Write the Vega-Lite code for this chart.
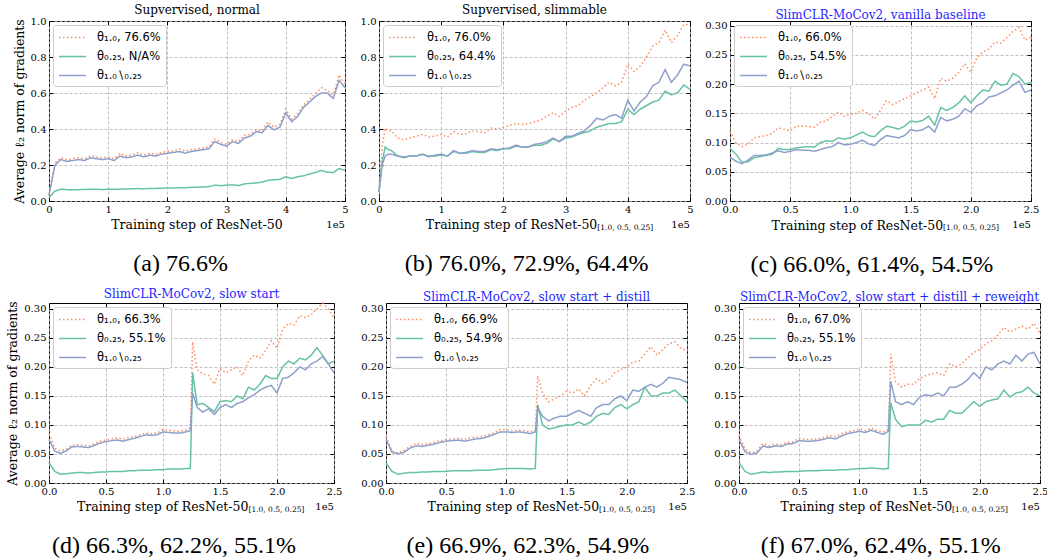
{
  "$schema": "https://vega.github.io/schema/vega-lite/v6.json",
  "padding": {"left": 5, "top": 3, "right": 0, "bottom": 0},
  "background": "white",
  "config": {
    "font": "DejaVu Serif",
    "view": {"stroke": "black", "strokeWidth": 1},
    "axis": {
      "domain": false, "grid": true, "gridColor": "#b0b0b0", "gridDash": [3, 2], "gridWidth": 0.8,
      "labelFont": "DejaVu Serif", "labelFontSize": 10, "labelColor": "black",
      "titleFont": "DejaVu Serif", "titleFontSize": 12.5, "titleFontWeight": "normal", "titleColor": "black",
      "tickColor": "black", "tickSize": -4, "labelPadding": 7, "labelFlush": false, "labelOverlap": false, "tickCount": 20
    },
    "legend": {
      "orient": "top-left", "offset": 4, "title": null, "padding": 5, "rowPadding": 6,
      "fillColor": "rgba(255,255,255,0.9)", "strokeColor": "#cccccc", "cornerRadius": 3,
      "symbolType": "M-2,0H2", "symbolSize": 182, "symbolStrokeWidth": 1.5, "symbolOffset": 7, "labelOffset": 17,
      "labelFont": "DejaVu Sans", "labelFontSize": 11.5, "labelColor": "black"
    },
    "title": {"font": "DejaVu Serif", "fontSize": 12, "fontWeight": "normal", "color": "black", "offset": -1},
    "text": {"font": "DejaVu Serif", "color": "black"}
  },
  "datasets": {
    "a": [
      {"x":0,"p":0.04,"q":0.02,"r":0.03},{"x":0.1,"p":0.21,"q":0.055,"r":0.2},{"x":0.2,"p":0.24,"q":0.065,"r":0.23},
      {"x":0.3,"p":0.23,"q":0.063,"r":0.22},{"x":0.4,"p":0.235,"q":0.062,"r":0.225},{"x":0.5,"p":0.24,"q":0.063,"r":0.23},
      {"x":0.6,"p":0.235,"q":0.064,"r":0.225},{"x":0.7,"p":0.25,"q":0.066,"r":0.24},{"x":0.8,"p":0.245,"q":0.065,"r":0.235},
      {"x":0.9,"p":0.24,"q":0.064,"r":0.23},{"x":1.0,"p":0.245,"q":0.065,"r":0.235},{"x":1.1,"p":0.235,"q":0.065,"r":0.225},
      {"x":1.2,"p":0.265,"q":0.066,"r":0.25},{"x":1.3,"p":0.25,"q":0.066,"r":0.24},{"x":1.4,"p":0.255,"q":0.068,"r":0.245},
      {"x":1.5,"p":0.27,"q":0.069,"r":0.255},{"x":1.6,"p":0.255,"q":0.068,"r":0.245},{"x":1.7,"p":0.265,"q":0.07,"r":0.255},
      {"x":1.8,"p":0.26,"q":0.07,"r":0.25},{"x":1.9,"p":0.27,"q":0.071,"r":0.26},{"x":2.0,"p":0.275,"q":0.072,"r":0.265},
      {"x":2.1,"p":0.28,"q":0.072,"r":0.27},{"x":2.2,"p":0.29,"q":0.074,"r":0.275},{"x":2.3,"p":0.275,"q":0.074,"r":0.265},
      {"x":2.4,"p":0.285,"q":0.076,"r":0.275},{"x":2.5,"p":0.29,"q":0.077,"r":0.28},{"x":2.6,"p":0.295,"q":0.078,"r":0.285},
      {"x":2.7,"p":0.3,"q":0.08,"r":0.29},{"x":2.8,"p":0.345,"q":0.088,"r":0.33},{"x":2.9,"p":0.325,"q":0.085,"r":0.315},
      {"x":3.0,"p":0.315,"q":0.088,"r":0.305},{"x":3.1,"p":0.34,"q":0.09,"r":0.33},{"x":3.2,"p":0.33,"q":0.086,"r":0.32},
      {"x":3.3,"p":0.365,"q":0.095,"r":0.35},{"x":3.4,"p":0.37,"q":0.098,"r":0.36},{"x":3.5,"p":0.395,"q":0.1,"r":0.385},
      {"x":3.6,"p":0.39,"q":0.105,"r":0.38},{"x":3.7,"p":0.44,"q":0.115,"r":0.42},{"x":3.8,"p":0.41,"q":0.118,"r":0.395},
      {"x":3.9,"p":0.425,"q":0.12,"r":0.41},{"x":4.0,"p":0.51,"q":0.135,"r":0.49},{"x":4.1,"p":0.455,"q":0.125,"r":0.44},
      {"x":4.2,"p":0.485,"q":0.135,"r":0.47},{"x":4.3,"p":0.535,"q":0.14,"r":0.52},{"x":4.4,"p":0.565,"q":0.15,"r":0.55},
      {"x":4.5,"p":0.595,"q":0.158,"r":0.58},{"x":4.6,"p":0.63,"q":0.17,"r":0.6},{"x":4.7,"p":0.615,"q":0.16,"r":0.6},
      {"x":4.8,"p":0.59,"q":0.158,"r":0.57},{"x":4.9,"p":0.7,"q":0.18,"r":0.67},{"x":5.0,"p":0.65,"q":0.17,"r":0.63}
    ],
    "b": [
      {"x":0,"p":0.08,"q":0.05,"r":0.05},{"x":0.05,"p":0.3,"q":0.22,"r":0.2},{"x":0.1,"p":0.405,"q":0.3,"r":0.25},
      {"x":0.15,"p":0.39,"q":0.285,"r":0.26},{"x":0.2,"p":0.39,"q":0.28,"r":0.26},{"x":0.3,"p":0.35,"q":0.25,"r":0.25},
      {"x":0.4,"p":0.34,"q":0.24,"r":0.245},{"x":0.5,"p":0.35,"q":0.25,"r":0.25},{"x":0.6,"p":0.36,"q":0.25,"r":0.25},
      {"x":0.7,"p":0.37,"q":0.26,"r":0.26},{"x":0.8,"p":0.355,"q":0.25,"r":0.245},{"x":0.9,"p":0.36,"q":0.25,"r":0.255},
      {"x":1.0,"p":0.37,"q":0.255,"r":0.26},{"x":1.1,"p":0.355,"q":0.25,"r":0.25},{"x":1.2,"p":0.385,"q":0.275,"r":0.28},
      {"x":1.3,"p":0.37,"q":0.265,"r":0.265},{"x":1.4,"p":0.375,"q":0.265,"r":0.27},{"x":1.5,"p":0.39,"q":0.275,"r":0.28},
      {"x":1.6,"p":0.385,"q":0.27,"r":0.275},{"x":1.7,"p":0.38,"q":0.27,"r":0.275},{"x":1.8,"p":0.405,"q":0.285,"r":0.29},
      {"x":1.9,"p":0.4,"q":0.28,"r":0.285},{"x":2.0,"p":0.41,"q":0.29,"r":0.29},{"x":2.1,"p":0.42,"q":0.29,"r":0.295},
      {"x":2.2,"p":0.43,"q":0.305,"r":0.31},{"x":2.3,"p":0.425,"q":0.3,"r":0.3},{"x":2.4,"p":0.43,"q":0.3,"r":0.3},
      {"x":2.5,"p":0.44,"q":0.31,"r":0.315},{"x":2.6,"p":0.45,"q":0.31,"r":0.32},{"x":2.7,"p":0.47,"q":0.32,"r":0.33},
      {"x":2.8,"p":0.49,"q":0.345,"r":0.35},{"x":2.9,"p":0.47,"q":0.33,"r":0.33},{"x":3.0,"p":0.5,"q":0.35,"r":0.36},
      {"x":3.1,"p":0.52,"q":0.355,"r":0.36},{"x":3.2,"p":0.53,"q":0.37,"r":0.375},{"x":3.3,"p":0.56,"q":0.38,"r":0.39},
      {"x":3.4,"p":0.58,"q":0.39,"r":0.42},{"x":3.5,"p":0.6,"q":0.41,"r":0.46},{"x":3.6,"p":0.63,"q":0.42,"r":0.45},
      {"x":3.7,"p":0.66,"q":0.43,"r":0.47},{"x":3.8,"p":0.64,"q":0.43,"r":0.48},{"x":3.9,"p":0.66,"q":0.44,"r":0.46},
      {"x":4.0,"p":0.76,"q":0.51,"r":0.56},{"x":4.1,"p":0.72,"q":0.48,"r":0.5},{"x":4.2,"p":0.75,"q":0.51,"r":0.55},
      {"x":4.3,"p":0.8,"q":0.53,"r":0.58},{"x":4.4,"p":0.86,"q":0.55,"r":0.64},{"x":4.5,"p":0.88,"q":0.56,"r":0.66},
      {"x":4.6,"p":0.95,"q":0.61,"r":0.73},{"x":4.7,"p":0.88,"q":0.59,"r":0.66},{"x":4.8,"p":0.92,"q":0.6,"r":0.7},
      {"x":4.9,"p":0.98,"q":0.645,"r":0.76},{"x":5.0,"p":0.98,"q":0.62,"r":0.75}
    ],
    "c": [
      {"x":0,"p":0.12,"q":0.09,"r":0.075},{"x":0.05,"p":0.1,"q":0.08,"r":0.068},{"x":0.1,"p":0.093,"q":0.066,"r":0.064},
      {"x":0.15,"p":0.097,"q":0.067,"r":0.07},{"x":0.2,"p":0.108,"q":0.074,"r":0.078},{"x":0.25,"p":0.11,"q":0.076,"r":0.078},
      {"x":0.3,"p":0.112,"q":0.078,"r":0.079},{"x":0.35,"p":0.115,"q":0.08,"r":0.082},{"x":0.4,"p":0.125,"q":0.09,"r":0.086},
      {"x":0.45,"p":0.123,"q":0.088,"r":0.083},{"x":0.5,"p":0.12,"q":0.088,"r":0.085},{"x":0.55,"p":0.128,"q":0.091,"r":0.088},
      {"x":0.6,"p":0.128,"q":0.092,"r":0.087},{"x":0.65,"p":0.128,"q":0.093,"r":0.087},{"x":0.7,"p":0.126,"q":0.092,"r":0.085},
      {"x":0.75,"p":0.135,"q":0.1,"r":0.088},{"x":0.8,"p":0.137,"q":0.103,"r":0.091},{"x":0.85,"p":0.145,"q":0.102,"r":0.093},
      {"x":0.9,"p":0.152,"q":0.108,"r":0.1},{"x":0.95,"p":0.145,"q":0.106,"r":0.096},{"x":1.0,"p":0.148,"q":0.108,"r":0.097},
      {"x":1.05,"p":0.15,"q":0.113,"r":0.1},{"x":1.1,"p":0.155,"q":0.118,"r":0.104},{"x":1.15,"p":0.15,"q":0.112,"r":0.098},
      {"x":1.2,"p":0.14,"q":0.11,"r":0.095},{"x":1.25,"p":0.155,"q":0.12,"r":0.105},{"x":1.3,"p":0.172,"q":0.128,"r":0.112},
      {"x":1.35,"p":0.165,"q":0.126,"r":0.11},{"x":1.4,"p":0.17,"q":0.123,"r":0.108},{"x":1.45,"p":0.175,"q":0.128,"r":0.112},
      {"x":1.5,"p":0.18,"q":0.137,"r":0.122},{"x":1.55,"p":0.185,"q":0.135,"r":0.12},{"x":1.6,"p":0.19,"q":0.138,"r":0.122},
      {"x":1.65,"p":0.195,"q":0.145,"r":0.128},{"x":1.7,"p":0.175,"q":0.13,"r":0.118},{"x":1.75,"p":0.21,"q":0.16,"r":0.143},
      {"x":1.8,"p":0.205,"q":0.155,"r":0.137},{"x":1.85,"p":0.21,"q":0.16,"r":0.14},{"x":1.9,"p":0.22,"q":0.168,"r":0.145},
      {"x":1.95,"p":0.235,"q":0.18,"r":0.158},{"x":2.0,"p":0.22,"q":0.168,"r":0.152},{"x":2.05,"p":0.245,"q":0.18,"r":0.163},
      {"x":2.1,"p":0.255,"q":0.19,"r":0.168},{"x":2.15,"p":0.26,"q":0.188,"r":0.178},{"x":2.2,"p":0.272,"q":0.205,"r":0.18},
      {"x":2.25,"p":0.27,"q":0.198,"r":0.185},{"x":2.3,"p":0.28,"q":0.2,"r":0.19},{"x":2.35,"p":0.29,"q":0.218,"r":0.198},
      {"x":2.4,"p":0.297,"q":0.213,"r":0.205},{"x":2.45,"p":0.275,"q":0.2,"r":0.186},{"x":2.5,"p":0.28,"q":0.203,"r":0.19}
    ],
    "d": [
      {"x":0,"p":0.085,"q":0.035,"r":0.075},{"x":0.05,"p":0.06,"q":0.02,"r":0.055},{"x":0.1,"p":0.055,"q":0.015,"r":0.051},
      {"x":0.15,"p":0.058,"q":0.016,"r":0.055},{"x":0.2,"p":0.065,"q":0.017,"r":0.062},{"x":0.25,"p":0.066,"q":0.018,"r":0.063},
      {"x":0.3,"p":0.065,"q":0.018,"r":0.062},{"x":0.35,"p":0.064,"q":0.017,"r":0.061},{"x":0.4,"p":0.068,"q":0.018,"r":0.065},
      {"x":0.45,"p":0.072,"q":0.019,"r":0.069},{"x":0.5,"p":0.074,"q":0.019,"r":0.071},{"x":0.55,"p":0.076,"q":0.02,"r":0.073},
      {"x":0.6,"p":0.078,"q":0.02,"r":0.074},{"x":0.65,"p":0.076,"q":0.02,"r":0.072},{"x":0.7,"p":0.079,"q":0.021,"r":0.075},
      {"x":0.75,"p":0.08,"q":0.021,"r":0.077},{"x":0.8,"p":0.083,"q":0.022,"r":0.08},{"x":0.85,"p":0.086,"q":0.022,"r":0.083},
      {"x":0.9,"p":0.085,"q":0.022,"r":0.082},{"x":0.95,"p":0.086,"q":0.023,"r":0.083},{"x":1.0,"p":0.092,"q":0.023,"r":0.088},
      {"x":1.05,"p":0.091,"q":0.024,"r":0.087},{"x":1.1,"p":0.09,"q":0.024,"r":0.086},{"x":1.15,"p":0.089,"q":0.024,"r":0.086},
      {"x":1.2,"p":0.091,"q":0.025,"r":0.088},{"x":1.24,"p":0.095,"q":0.025,"r":0.09},{"x":1.26,"p":0.243,"q":0.19,"r":0.155},
      {"x":1.3,"p":0.195,"q":0.135,"r":0.13},{"x":1.35,"p":0.188,"q":0.137,"r":0.122},{"x":1.4,"p":0.185,"q":0.13,"r":0.128},
      {"x":1.45,"p":0.17,"q":0.123,"r":0.118},{"x":1.5,"p":0.197,"q":0.14,"r":0.13},{"x":1.55,"p":0.19,"q":0.142,"r":0.135},
      {"x":1.6,"p":0.195,"q":0.14,"r":0.13},{"x":1.65,"p":0.2,"q":0.15,"r":0.137},{"x":1.7,"p":0.185,"q":0.145,"r":0.14},
      {"x":1.75,"p":0.21,"q":0.165,"r":0.147},{"x":1.8,"p":0.22,"q":0.16,"r":0.152},{"x":1.85,"p":0.215,"q":0.17,"r":0.16},
      {"x":1.9,"p":0.228,"q":0.185,"r":0.165},{"x":1.95,"p":0.245,"q":0.18,"r":0.168},{"x":2.0,"p":0.232,"q":0.18,"r":0.155},
      {"x":2.05,"p":0.265,"q":0.2,"r":0.18},{"x":2.1,"p":0.275,"q":0.21,"r":0.182},{"x":2.15,"p":0.272,"q":0.205,"r":0.19},
      {"x":2.2,"p":0.288,"q":0.215,"r":0.2},{"x":2.25,"p":0.285,"q":0.212,"r":0.195},{"x":2.3,"p":0.29,"q":0.22,"r":0.205},
      {"x":2.35,"p":0.3,"q":0.233,"r":0.21},{"x":2.4,"p":0.31,"q":0.22,"r":0.218},{"x":2.45,"p":0.3,"q":0.205,"r":0.205},
      {"x":2.5,"p":0.285,"q":0.21,"r":0.19}
    ],
    "e": [
      {"x":0,"p":0.08,"q":0.035,"r":0.075},{"x":0.05,"p":0.055,"q":0.02,"r":0.053},{"x":0.1,"p":0.052,"q":0.015,"r":0.05},
      {"x":0.15,"p":0.056,"q":0.017,"r":0.053},{"x":0.2,"p":0.063,"q":0.018,"r":0.06},{"x":0.25,"p":0.068,"q":0.018,"r":0.064},
      {"x":0.3,"p":0.066,"q":0.019,"r":0.063},{"x":0.35,"p":0.068,"q":0.019,"r":0.065},{"x":0.4,"p":0.07,"q":0.02,"r":0.067},
      {"x":0.45,"p":0.073,"q":0.02,"r":0.07},{"x":0.5,"p":0.075,"q":0.02,"r":0.072},{"x":0.55,"p":0.076,"q":0.021,"r":0.073},
      {"x":0.6,"p":0.077,"q":0.021,"r":0.074},{"x":0.65,"p":0.075,"q":0.021,"r":0.072},{"x":0.7,"p":0.078,"q":0.021,"r":0.074},
      {"x":0.75,"p":0.079,"q":0.022,"r":0.076},{"x":0.8,"p":0.08,"q":0.022,"r":0.077},{"x":0.85,"p":0.083,"q":0.022,"r":0.08},
      {"x":0.9,"p":0.087,"q":0.023,"r":0.084},{"x":0.95,"p":0.092,"q":0.024,"r":0.088},{"x":1.0,"p":0.092,"q":0.025,"r":0.088},
      {"x":1.05,"p":0.09,"q":0.025,"r":0.087},{"x":1.1,"p":0.091,"q":0.025,"r":0.088},{"x":1.15,"p":0.09,"q":0.025,"r":0.087},
      {"x":1.2,"p":0.088,"q":0.024,"r":0.085},{"x":1.24,"p":0.09,"q":0.025,"r":0.088},{"x":1.26,"p":0.185,"q":0.135,"r":0.13},
      {"x":1.3,"p":0.155,"q":0.1,"r":0.115},{"x":1.35,"p":0.14,"q":0.093,"r":0.107},{"x":1.4,"p":0.145,"q":0.095,"r":0.112},
      {"x":1.45,"p":0.15,"q":0.098,"r":0.115},{"x":1.5,"p":0.158,"q":0.1,"r":0.115},{"x":1.55,"p":0.155,"q":0.1,"r":0.12},
      {"x":1.6,"p":0.162,"q":0.105,"r":0.125},{"x":1.65,"p":0.15,"q":0.1,"r":0.12},{"x":1.7,"p":0.168,"q":0.105,"r":0.115},
      {"x":1.75,"p":0.18,"q":0.115,"r":0.13},{"x":1.8,"p":0.172,"q":0.12,"r":0.135},{"x":1.85,"p":0.178,"q":0.118,"r":0.135},
      {"x":1.9,"p":0.19,"q":0.13,"r":0.145},{"x":1.95,"p":0.195,"q":0.135,"r":0.15},{"x":2.0,"p":0.2,"q":0.128,"r":0.142},
      {"x":2.05,"p":0.208,"q":0.135,"r":0.16},{"x":2.1,"p":0.21,"q":0.14,"r":0.158},{"x":2.15,"p":0.222,"q":0.165,"r":0.165},
      {"x":2.2,"p":0.235,"q":0.15,"r":0.17},{"x":2.25,"p":0.22,"q":0.15,"r":0.165},{"x":2.3,"p":0.23,"q":0.155,"r":0.172},
      {"x":2.35,"p":0.24,"q":0.155,"r":0.182},{"x":2.4,"p":0.243,"q":0.16,"r":0.18},{"x":2.45,"p":0.232,"q":0.15,"r":0.178},
      {"x":2.5,"p":0.228,"q":0.14,"r":0.173}
    ],
    "f": [
      {"x":0,"p":0.082,"q":0.035,"r":0.075},{"x":0.05,"p":0.058,"q":0.02,"r":0.054},{"x":0.1,"p":0.052,"q":0.015,"r":0.049},
      {"x":0.15,"p":0.055,"q":0.017,"r":0.052},{"x":0.2,"p":0.068,"q":0.019,"r":0.064},{"x":0.25,"p":0.064,"q":0.018,"r":0.061},
      {"x":0.3,"p":0.067,"q":0.019,"r":0.064},{"x":0.35,"p":0.066,"q":0.019,"r":0.063},{"x":0.4,"p":0.07,"q":0.02,"r":0.067},
      {"x":0.45,"p":0.071,"q":0.02,"r":0.068},{"x":0.5,"p":0.077,"q":0.02,"r":0.073},{"x":0.55,"p":0.075,"q":0.021,"r":0.072},
      {"x":0.6,"p":0.075,"q":0.021,"r":0.072},{"x":0.65,"p":0.076,"q":0.021,"r":0.073},{"x":0.7,"p":0.078,"q":0.022,"r":0.075},
      {"x":0.75,"p":0.082,"q":0.022,"r":0.078},{"x":0.8,"p":0.08,"q":0.022,"r":0.076},{"x":0.85,"p":0.085,"q":0.023,"r":0.081},
      {"x":0.9,"p":0.088,"q":0.023,"r":0.085},{"x":0.95,"p":0.09,"q":0.024,"r":0.087},{"x":1.0,"p":0.093,"q":0.025,"r":0.089},
      {"x":1.05,"p":0.09,"q":0.025,"r":0.087},{"x":1.1,"p":0.095,"q":0.026,"r":0.091},{"x":1.15,"p":0.09,"q":0.025,"r":0.087},
      {"x":1.2,"p":0.088,"q":0.024,"r":0.084},{"x":1.24,"p":0.092,"q":0.025,"r":0.089},{"x":1.26,"p":0.222,"q":0.138,"r":0.175},
      {"x":1.3,"p":0.175,"q":0.11,"r":0.14},{"x":1.35,"p":0.165,"q":0.097,"r":0.135},{"x":1.4,"p":0.17,"q":0.1,"r":0.14},
      {"x":1.45,"p":0.17,"q":0.1,"r":0.135},{"x":1.5,"p":0.18,"q":0.1,"r":0.148},{"x":1.55,"p":0.185,"q":0.108,"r":0.152},
      {"x":1.6,"p":0.188,"q":0.105,"r":0.15},{"x":1.65,"p":0.19,"q":0.11,"r":0.155},{"x":1.7,"p":0.185,"q":0.11,"r":0.15},
      {"x":1.75,"p":0.205,"q":0.125,"r":0.165},{"x":1.8,"p":0.2,"q":0.12,"r":0.165},{"x":1.85,"p":0.205,"q":0.12,"r":0.17},
      {"x":1.9,"p":0.215,"q":0.13,"r":0.178},{"x":1.95,"p":0.225,"q":0.14,"r":0.19},{"x":2.0,"p":0.23,"q":0.132,"r":0.18},
      {"x":2.05,"p":0.24,"q":0.14,"r":0.2},{"x":2.1,"p":0.245,"q":0.143,"r":0.195},{"x":2.15,"p":0.255,"q":0.145,"r":0.205},
      {"x":2.2,"p":0.268,"q":0.16,"r":0.21},{"x":2.25,"p":0.26,"q":0.148,"r":0.205},{"x":2.3,"p":0.265,"q":0.155,"r":0.22},
      {"x":2.35,"p":0.27,"q":0.157,"r":0.21},{"x":2.4,"p":0.265,"q":0.165,"r":0.222},{"x":2.45,"p":0.275,"q":0.155,"r":0.225},
      {"x":2.5,"p":0.258,"q":0.15,"r":0.205}
    ]
  },
  "resolve": {"scale": {"color": "independent", "strokeDash": "independent"}},
  "spacing": 10,
  "vconcat": [
    {
      "spacing": 10,
      "resolve": {"scale": {"color": "independent", "strokeDash": "independent"}},
      "hconcat": [
        {
          "title": {"text": "(a) 76.6%", "orient": "bottom", "anchor": "middle", "font": "Liberation Serif", "fontSize": 24, "offset": 20},
          "resolve": {"scale": {"color": "independent", "strokeDash": "independent"}},
          "vconcat": [{
            "title": {"text": "Supvervised, normal"},
            "width": 296, "height": 180,
            "resolve": {"axis": {"x": "independent", "y": "independent"}},
            "layer": [
              {
                "data": {"name": "a"},
                "transform": [{"fold": ["p", "q", "r"], "as": ["k", "v"]}],
                "mark": {"type": "line", "strokeWidth": 1.5},
                "encoding": {
                  "x": {"field": "x", "type": "quantitative", "scale": {"domain": [0, 5], "nice": false}, "axis": {"title": null, "values": [0, 1, 2, 3, 4, 5], "tickCount": 20, "format": "d", "labelOverlap": false}},
                  "y": {"field": "v", "type": "quantitative", "scale": {"domain": [0, 1], "nice": false}, "axis": {"title": "Average ℓ₂ norm of gradients", "values": [0, 0.2, 0.4, 0.6, 0.8, 1], "tickCount": 20, "format": ".1f", "labelOverlap": false}},
                  "color": {"field": "k", "type": "nominal", "scale": {"domain": ["p", "q", "r"], "range": ["#fc8d62", "#66c2a5", "#8da0cb"]}, "legend": {"labelExpr": "{'p': 'θ₁.₀, 76.6%', 'q': 'θ₀.₂₅, N/A%', 'r': 'θ₁.₀∖₀.₂₅'}[datum.label]"}},
                  "strokeDash": {"field": "k", "type": "nominal", "scale": {"domain": ["p", "q", "r"], "range": [[1.5, 2.5], [1, 0], [1, 0]]}, "legend": {"labelExpr": "{'p': 'θ₁.₀, 76.6%', 'q': 'θ₀.₂₅, N/A%', 'r': 'θ₁.₀∖₀.₂₅'}[datum.label]"}}
                }
              },
              {
                "data": {"name": "a"},
                "mark": {"type": "line", "opacity": 0},
                "encoding": {
                  "x": {"field": "x", "type": "quantitative", "scale": {"domain": [0, 5], "nice": false}, "axis": {"orient": "top", "title": null, "labels": false, "grid": false, "values": [0, 1, 2, 3, 4, 5], "tickCount": 20}},
                  "y": {"field": "p", "type": "quantitative", "scale": {"domain": [0, 1], "nice": false}, "axis": {"orient": "right", "title": null, "labels": false, "grid": false, "values": [0, 0.2, 0.4, 0.6, 0.8, 1], "tickCount": 20}}
                }
              },
              {"data": {"values": [{}]}, "mark": {"type": "text", "text": "Training step of ResNet-50", "fontSize": 12.5, "align": "center", "baseline": "middle"}, "encoding": {"x": {"datum": 2.5, "axis": null}, "y": {"datum": -0.136, "axis": null}}},
              {"data": {"values": [{}]}, "mark": {"type": "text", "text": "1e5", "fontSize": 10, "align": "right", "baseline": "middle"}, "encoding": {"x": {"datum": 5, "axis": null}, "y": {"datum": -0.133, "axis": null}}}
            ]
          }]
        },
        {
          "title": {"text": "(b) 76.0%, 72.9%, 64.4%", "orient": "bottom", "anchor": "middle", "font": "Liberation Serif", "fontSize": 24, "offset": 20},
          "resolve": {"scale": {"color": "independent", "strokeDash": "independent"}},
          "vconcat": [{
            "title": {"text": "Supvervised, slimmable"},
            "width": 311, "height": 180,
            "resolve": {"axis": {"x": "independent", "y": "independent"}},
            "layer": [
              {
                "data": {"name": "b"},
                "transform": [{"fold": ["p", "q", "r"], "as": ["k", "v"]}],
                "mark": {"type": "line", "strokeWidth": 1.5},
                "encoding": {
                  "x": {"field": "x", "type": "quantitative", "scale": {"domain": [0, 5], "nice": false}, "axis": {"title": null, "values": [0, 1, 2, 3, 4, 5], "tickCount": 20, "format": "d", "labelOverlap": false}},
                  "y": {"field": "v", "type": "quantitative", "scale": {"domain": [0, 1], "nice": false}, "axis": {"title": null, "values": [0, 0.2, 0.4, 0.6, 0.8, 1], "tickCount": 20, "format": ".1f", "labelOverlap": false}},
                  "color": {"field": "k", "type": "nominal", "scale": {"domain": ["p", "q", "r"], "range": ["#fc8d62", "#66c2a5", "#8da0cb"]}, "legend": {"labelExpr": "{'p': 'θ₁.₀, 76.0%', 'q': 'θ₀.₂₅, 64.4%', 'r': 'θ₁.₀∖₀.₂₅'}[datum.label]"}},
                  "strokeDash": {"field": "k", "type": "nominal", "scale": {"domain": ["p", "q", "r"], "range": [[1.5, 2.5], [1, 0], [1, 0]]}, "legend": {"labelExpr": "{'p': 'θ₁.₀, 76.0%', 'q': 'θ₀.₂₅, 64.4%', 'r': 'θ₁.₀∖₀.₂₅'}[datum.label]"}}
                }
              },
              {
                "data": {"name": "b"},
                "mark": {"type": "line", "opacity": 0},
                "encoding": {
                  "x": {"field": "x", "type": "quantitative", "scale": {"domain": [0, 5], "nice": false}, "axis": {"orient": "top", "title": null, "labels": false, "grid": false, "values": [0, 1, 2, 3, 4, 5], "tickCount": 20}},
                  "y": {"field": "p", "type": "quantitative", "scale": {"domain": [0, 1], "nice": false}, "axis": {"orient": "right", "title": null, "labels": false, "grid": false, "values": [0, 0.2, 0.4, 0.6, 0.8, 1], "tickCount": 20}}
                }
              },
              {"data": {"values": [{}]}, "mark": {"type": "text", "text": "Training step of ResNet-50", "fontSize": 12.5, "align": "right", "baseline": "middle"}, "encoding": {"x": {"datum": 3.51, "axis": null}, "y": {"datum": -0.136, "axis": null}}},
              {"data": {"values": [{}]}, "mark": {"type": "text", "text": "[1.0, 0.5, 0.25]", "fontSize": 7.5, "align": "left", "baseline": "middle"}, "encoding": {"x": {"datum": 3.51, "axis": null}, "y": {"datum": -0.152, "axis": null}}},
              {"data": {"values": [{}]}, "mark": {"type": "text", "text": "1e5", "fontSize": 10, "align": "right", "baseline": "middle"}, "encoding": {"x": {"datum": 5, "axis": null}, "y": {"datum": -0.133, "axis": null}}}
            ]
          }]
        },
        {
          "title": {"text": "(c) 66.0%, 61.4%, 54.5%", "orient": "bottom", "anchor": "middle", "font": "Liberation Serif", "fontSize": 24, "offset": 20},
          "resolve": {"scale": {"color": "independent", "strokeDash": "independent"}},
          "vconcat": [{
            "title": {"text": "SlimCLR-MoCov2, vanilla baseline", "color": "#1f1fff"},
            "width": 301, "height": 180,
            "resolve": {"axis": {"x": "independent", "y": "independent"}},
            "layer": [
              {
                "data": {"name": "c"},
                "transform": [{"fold": ["p", "q", "r"], "as": ["k", "v"]}],
                "mark": {"type": "line", "strokeWidth": 1.5},
                "encoding": {
                  "x": {"field": "x", "type": "quantitative", "scale": {"domain": [0, 2.5], "nice": false}, "axis": {"title": null, "values": [0, 0.5, 1, 1.5, 2, 2.5], "tickCount": 20, "format": ".1f", "labelOverlap": false}},
                  "y": {"field": "v", "type": "quantitative", "scale": {"domain": [0, 0.308], "nice": false}, "axis": {"title": null, "values": [0, 0.05, 0.1, 0.15, 0.2, 0.25, 0.3], "tickCount": 20, "format": ".2f", "labelOverlap": false}},
                  "color": {"field": "k", "type": "nominal", "scale": {"domain": ["p", "q", "r"], "range": ["#fc8d62", "#66c2a5", "#8da0cb"]}, "legend": {"labelExpr": "{'p': 'θ₁.₀,  66.0%', 'q': 'θ₀.₂₅, 54.5%', 'r': 'θ₁.₀∖₀.₂₅'}[datum.label]"}},
                  "strokeDash": {"field": "k", "type": "nominal", "scale": {"domain": ["p", "q", "r"], "range": [[1.5, 2.5], [1, 0], [1, 0]]}, "legend": {"labelExpr": "{'p': 'θ₁.₀,  66.0%', 'q': 'θ₀.₂₅, 54.5%', 'r': 'θ₁.₀∖₀.₂₅'}[datum.label]"}}
                }
              },
              {
                "data": {"name": "c"},
                "mark": {"type": "line", "opacity": 0},
                "encoding": {
                  "x": {"field": "x", "type": "quantitative", "scale": {"domain": [0, 2.5], "nice": false}, "axis": {"orient": "top", "title": null, "labels": false, "grid": false, "values": [0, 0.5, 1, 1.5, 2, 2.5], "tickCount": 20}},
                  "y": {"field": "p", "type": "quantitative", "scale": {"domain": [0, 0.308], "nice": false}, "axis": {"orient": "right", "title": null, "labels": false, "grid": false, "values": [0, 0.05, 0.1, 0.15, 0.2, 0.25, 0.3], "tickCount": 20}}
                }
              },
              {"data": {"values": [{}]}, "mark": {"type": "text", "text": "Training step of ResNet-50", "fontSize": 12.5, "align": "right", "baseline": "middle"}, "encoding": {"x": {"datum": 1.77, "axis": null}, "y": {"datum": -0.042, "axis": null}}},
              {"data": {"values": [{}]}, "mark": {"type": "text", "text": "[1.0, 0.5, 0.25]", "fontSize": 7.5, "align": "left", "baseline": "middle"}, "encoding": {"x": {"datum": 1.77, "axis": null}, "y": {"datum": -0.047, "axis": null}}},
              {"data": {"values": [{}]}, "mark": {"type": "text", "text": "1e5", "fontSize": 10, "align": "right", "baseline": "middle"}, "encoding": {"x": {"datum": 2.5, "axis": null}, "y": {"datum": -0.041, "axis": null}}}
            ]
          }]
        }
      ]
    },
    {
      "spacing": 17,
      "resolve": {"scale": {"color": "independent", "strokeDash": "independent"}},
      "hconcat": [
        {
          "title": {"text": "(d) 66.3%, 62.2%, 55.1%", "orient": "bottom", "anchor": "middle", "font": "Liberation Serif", "fontSize": 24, "offset": 20},
          "resolve": {"scale": {"color": "independent", "strokeDash": "independent"}},
          "vconcat": [{
            "title": {"text": "SlimCLR-MoCov2, slow start", "color": "#1f1fff"},
            "width": 285, "height": 180,
            "resolve": {"axis": {"x": "independent", "y": "independent"}},
            "layer": [
              {
                "data": {"name": "d"},
                "transform": [{"fold": ["p", "q", "r"], "as": ["k", "v"]}],
                "mark": {"type": "line", "strokeWidth": 1.5},
                "encoding": {
                  "x": {"field": "x", "type": "quantitative", "scale": {"domain": [0, 2.5], "nice": false}, "axis": {"title": null, "values": [0, 0.5, 1, 1.5, 2, 2.5], "tickCount": 20, "format": ".1f", "labelOverlap": false}},
                  "y": {"field": "v", "type": "quantitative", "scale": {"domain": [0, 0.31], "nice": false}, "axis": {"title": "Average ℓ₂ norm of gradients", "titlePadding": 4.5, "values": [0, 0.05, 0.1, 0.15, 0.2, 0.25, 0.3], "tickCount": 20, "format": ".2f", "labelOverlap": false}},
                  "color": {"field": "k", "type": "nominal", "scale": {"domain": ["p", "q", "r"], "range": ["#fc8d62", "#66c2a5", "#8da0cb"]}, "legend": {"labelExpr": "{'p': 'θ₁.₀,  66.3%', 'q': 'θ₀.₂₅, 55.1%', 'r': 'θ₁.₀∖₀.₂₅'}[datum.label]"}},
                  "strokeDash": {"field": "k", "type": "nominal", "scale": {"domain": ["p", "q", "r"], "range": [[1.5, 2.5], [1, 0], [1, 0]]}, "legend": {"labelExpr": "{'p': 'θ₁.₀,  66.3%', 'q': 'θ₀.₂₅, 55.1%', 'r': 'θ₁.₀∖₀.₂₅'}[datum.label]"}}
                }
              },
              {
                "data": {"name": "d"},
                "mark": {"type": "line", "opacity": 0},
                "encoding": {
                  "x": {"field": "x", "type": "quantitative", "scale": {"domain": [0, 2.5], "nice": false}, "axis": {"orient": "top", "title": null, "labels": false, "grid": false, "values": [0, 0.5, 1, 1.5, 2, 2.5], "tickCount": 20}},
                  "y": {"field": "p", "type": "quantitative", "scale": {"domain": [0, 0.31], "nice": false}, "axis": {"orient": "right", "title": null, "labels": false, "grid": false, "values": [0, 0.05, 0.1, 0.15, 0.2, 0.25, 0.3], "tickCount": 20}}
                }
              },
              {"data": {"values": [{}]}, "mark": {"type": "text", "text": "Training step of ResNet-50", "fontSize": 12.5, "align": "right", "baseline": "middle"}, "encoding": {"x": {"datum": 1.75, "axis": null}, "y": {"datum": -0.042, "axis": null}}},
              {"data": {"values": [{}]}, "mark": {"type": "text", "text": "[1.0, 0.5, 0.25]", "fontSize": 7.5, "align": "left", "baseline": "middle"}, "encoding": {"x": {"datum": 1.75, "axis": null}, "y": {"datum": -0.047, "axis": null}}},
              {"data": {"values": [{}]}, "mark": {"type": "text", "text": "1e5", "fontSize": 10, "align": "right", "baseline": "middle"}, "encoding": {"x": {"datum": 2.5, "axis": null}, "y": {"datum": -0.041, "axis": null}}}
            ]
          }]
        },
        {
          "title": {"text": "(e) 66.9%, 62.3%, 54.9%", "orient": "bottom", "anchor": "middle", "font": "Liberation Serif", "fontSize": 24, "offset": 20},
          "resolve": {"scale": {"color": "independent", "strokeDash": "independent"}},
          "vconcat": [{
            "title": {"text": "SlimCLR-MoCov2, slow start + distill", "color": "#1f1fff"},
            "width": 301, "height": 180,
            "resolve": {"axis": {"x": "independent", "y": "independent"}},
            "layer": [
              {
                "data": {"name": "e"},
                "transform": [{"fold": ["p", "q", "r"], "as": ["k", "v"]}],
                "mark": {"type": "line", "strokeWidth": 1.5},
                "encoding": {
                  "x": {"field": "x", "type": "quantitative", "scale": {"domain": [0, 2.5], "nice": false}, "axis": {"title": null, "values": [0, 0.5, 1, 1.5, 2, 2.5], "tickCount": 20, "format": ".1f", "labelOverlap": false}},
                  "y": {"field": "v", "type": "quantitative", "scale": {"domain": [0, 0.31], "nice": false}, "axis": {"title": null, "values": [0, 0.05, 0.1, 0.15, 0.2, 0.25, 0.3], "tickCount": 20, "format": ".2f", "labelOverlap": false}},
                  "color": {"field": "k", "type": "nominal", "scale": {"domain": ["p", "q", "r"], "range": ["#fc8d62", "#66c2a5", "#8da0cb"]}, "legend": {"labelExpr": "{'p': 'θ₁.₀,  66.9%', 'q': 'θ₀.₂₅, 54.9%', 'r': 'θ₁.₀∖₀.₂₅'}[datum.label]"}},
                  "strokeDash": {"field": "k", "type": "nominal", "scale": {"domain": ["p", "q", "r"], "range": [[1.5, 2.5], [1, 0], [1, 0]]}, "legend": {"labelExpr": "{'p': 'θ₁.₀,  66.9%', 'q': 'θ₀.₂₅, 54.9%', 'r': 'θ₁.₀∖₀.₂₅'}[datum.label]"}}
                }
              },
              {
                "data": {"name": "e"},
                "mark": {"type": "line", "opacity": 0},
                "encoding": {
                  "x": {"field": "x", "type": "quantitative", "scale": {"domain": [0, 2.5], "nice": false}, "axis": {"orient": "top", "title": null, "labels": false, "grid": false, "values": [0, 0.5, 1, 1.5, 2, 2.5], "tickCount": 20}},
                  "y": {"field": "p", "type": "quantitative", "scale": {"domain": [0, 0.31], "nice": false}, "axis": {"orient": "right", "title": null, "labels": false, "grid": false, "values": [0, 0.05, 0.1, 0.15, 0.2, 0.25, 0.3], "tickCount": 20}}
                }
              },
              {"data": {"values": [{}]}, "mark": {"type": "text", "text": "Training step of ResNet-50", "fontSize": 12.5, "align": "right", "baseline": "middle"}, "encoding": {"x": {"datum": 1.77, "axis": null}, "y": {"datum": -0.042, "axis": null}}},
              {"data": {"values": [{}]}, "mark": {"type": "text", "text": "[1.0, 0.5, 0.25]", "fontSize": 7.5, "align": "left", "baseline": "middle"}, "encoding": {"x": {"datum": 1.77, "axis": null}, "y": {"datum": -0.047, "axis": null}}},
              {"data": {"values": [{}]}, "mark": {"type": "text", "text": "1e5", "fontSize": 10, "align": "right", "baseline": "middle"}, "encoding": {"x": {"datum": 2.5, "axis": null}, "y": {"datum": -0.041, "axis": null}}}
            ]
          }]
        },
        {
          "title": {"text": "(f) 67.0%, 62.4%, 55.1%", "orient": "bottom", "anchor": "middle", "font": "Liberation Serif", "fontSize": 24, "offset": 20},
          "resolve": {"scale": {"color": "independent", "strokeDash": "independent"}},
          "vconcat": [{
            "title": {"text": "SlimCLR-MoCov2, slow start + distill + reweight", "color": "#1f1fff"},
            "width": 301, "height": 180,
            "resolve": {"axis": {"x": "independent", "y": "independent"}},
            "layer": [
              {
                "data": {"name": "f"},
                "transform": [{"fold": ["p", "q", "r"], "as": ["k", "v"]}],
                "mark": {"type": "line", "strokeWidth": 1.5},
                "encoding": {
                  "x": {"field": "x", "type": "quantitative", "scale": {"domain": [0, 2.5], "nice": false}, "axis": {"title": null, "values": [0, 0.5, 1, 1.5, 2, 2.5], "tickCount": 20, "format": ".1f", "labelOverlap": false}},
                  "y": {"field": "v", "type": "quantitative", "scale": {"domain": [0, 0.31], "nice": false}, "axis": {"title": null, "values": [0, 0.05, 0.1, 0.15, 0.2, 0.25, 0.3], "tickCount": 20, "format": ".2f", "labelOverlap": false}},
                  "color": {"field": "k", "type": "nominal", "scale": {"domain": ["p", "q", "r"], "range": ["#fc8d62", "#66c2a5", "#8da0cb"]}, "legend": {"labelExpr": "{'p': 'θ₁.₀,  67.0%', 'q': 'θ₀.₂₅, 55.1%', 'r': 'θ₁.₀∖₀.₂₅'}[datum.label]"}},
                  "strokeDash": {"field": "k", "type": "nominal", "scale": {"domain": ["p", "q", "r"], "range": [[1.5, 2.5], [1, 0], [1, 0]]}, "legend": {"labelExpr": "{'p': 'θ₁.₀,  67.0%', 'q': 'θ₀.₂₅, 55.1%', 'r': 'θ₁.₀∖₀.₂₅'}[datum.label]"}}
                }
              },
              {
                "data": {"name": "f"},
                "mark": {"type": "line", "opacity": 0},
                "encoding": {
                  "x": {"field": "x", "type": "quantitative", "scale": {"domain": [0, 2.5], "nice": false}, "axis": {"orient": "top", "title": null, "labels": false, "grid": false, "values": [0, 0.5, 1, 1.5, 2, 2.5], "tickCount": 20}},
                  "y": {"field": "p", "type": "quantitative", "scale": {"domain": [0, 0.31], "nice": false}, "axis": {"orient": "right", "title": null, "labels": false, "grid": false, "values": [0, 0.05, 0.1, 0.15, 0.2, 0.25, 0.3], "tickCount": 20}}
                }
              },
              {"data": {"values": [{}]}, "mark": {"type": "text", "text": "Training step of ResNet-50", "fontSize": 12.5, "align": "right", "baseline": "middle"}, "encoding": {"x": {"datum": 1.77, "axis": null}, "y": {"datum": -0.042, "axis": null}}},
              {"data": {"values": [{}]}, "mark": {"type": "text", "text": "[1.0, 0.5, 0.25]", "fontSize": 7.5, "align": "left", "baseline": "middle"}, "encoding": {"x": {"datum": 1.77, "axis": null}, "y": {"datum": -0.047, "axis": null}}},
              {"data": {"values": [{}]}, "mark": {"type": "text", "text": "1e5", "fontSize": 10, "align": "right", "baseline": "middle"}, "encoding": {"x": {"datum": 2.5, "axis": null}, "y": {"datum": -0.041, "axis": null}}}
            ]
          }]
        }
      ]
    }
  ]
}
